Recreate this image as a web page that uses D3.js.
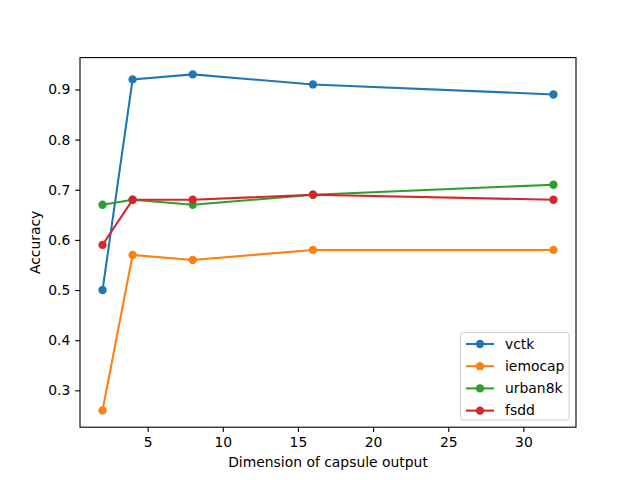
<!DOCTYPE html>
<html>
<head>
<meta charset="utf-8">
<script src="https://cdn.jsdelivr.net/npm/d3@7"></script>
<style>
  body { margin: 0; background: #fff; }
  svg text { font-family: "DejaVu Sans", sans-serif; fill: #000; }
</style>
</head>
<body>
<svg id="chart" width="640" height="480"></svg>
<script>
const dims = [2, 4, 8, 16, 32];
const seriesNames = ["vctk", "iemocap", "urban8k", "fsdd"];
const vctk = [0.50, 0.92, 0.93, 0.91, 0.89];
const iemocap = [0.26, 0.57, 0.56, 0.58, 0.58];
const urban8k = [0.67, 0.68, 0.67, 0.69, 0.71];
const fsdd = [0.59, 0.68, 0.68, 0.69, 0.68];
const colors = ["#1f77b4", "#ff7f0e", "#2ca02c", "#d62728"];
const xTicks = [5, 10, 15, 20, 25, 30];
const yTicks = [0.3, 0.4, 0.5, 0.6, 0.7, 0.8, 0.9];

const svg = d3.select("#chart"),
    margin = { top: 57.6, right: 64, bottom: 52.8, left: 80 },
    width = 640, height = 480,
    fs = 13.9;

const allSeries = [vctk, iemocap, urban8k, fsdd];
const allVals = allSeries.flat();
const xMin = d3.min(dims), xMax = d3.max(dims);
const yMin = d3.min(allVals), yMax = d3.max(allVals);
const xPad = (xMax - xMin) * 0.05, yPad = (yMax - yMin) * 0.05;

const x = d3.scaleLinear()
    .domain([xMin - xPad, xMax + xPad])
    .range([margin.left, width - margin.right]);
const y = d3.scaleLinear()
    .domain([yMin - yPad, yMax + yPad])
    .range([height - margin.bottom, margin.top]);

// axes
const xAxis = svg.append("g")
    .attr("transform", `translate(0,${height - margin.bottom})`)
    .call(d3.axisBottom(x).tickValues(xTicks).tickFormat(d3.format("d")).tickSizeOuter(0).tickSize(4.86).tickPadding(4.86));
const yAxis = svg.append("g")
    .attr("transform", `translate(${margin.left},0)`)
    .call(d3.axisLeft(y).tickValues(yTicks).tickFormat(d3.format(".1f")).tickSizeOuter(0).tickSize(4.86).tickPadding(4.86));
[xAxis, yAxis].forEach(g => {
    g.select(".domain").remove();
    g.selectAll("text").attr("font-size", fs).attr("font-family", "DejaVu Sans");
    g.selectAll("line").attr("stroke", "#000").attr("stroke-width", 1.1);
});

// frame
svg.append("rect")
    .attr("x", margin.left).attr("y", margin.top)
    .attr("width", width - margin.left - margin.right)
    .attr("height", height - margin.top - margin.bottom)
    .attr("fill", "none").attr("stroke", "#000").attr("stroke-width", 1.1);

// labels
svg.append("text")
    .attr("x", (margin.left + width - margin.right) / 2)
    .attr("y", 467)
    .attr("text-anchor", "middle")
    .attr("font-size", fs)
    .text("Dimension of capsule output");
svg.append("text")
    .attr("transform", `translate(40,${(margin.top + height - margin.bottom) / 2}) rotate(-90)`)
    .attr("text-anchor", "middle")
    .attr("font-size", fs)
    .text("Accuracy");

// lines
const line = d3.line().x((d, i) => x(dims[i])).y(d => y(d));
allSeries.forEach((vals, k) => {
    svg.append("path")
        .attr("d", line(vals))
        .attr("fill", "none")
        .attr("stroke", colors[k])
        .attr("stroke-width", 2.08);
    svg.selectAll(null)
        .data(vals)
        .join("circle")
        .attr("cx", (d, i) => x(dims[i]))
        .attr("cy", d => y(d))
        .attr("r", 4.17)
        .attr("fill", colors[k]);
});

// legend
const lg = svg.append("g");
lg.append("rect")
    .attr("x", 460.5).attr("y", 332.5)
    .attr("width", 108.5).attr("height", 87.5)
    .attr("rx", 2.8)
    .attr("fill", "#fff").attr("fill-opacity", 0.8)
    .attr("stroke", "#ccc").attr("stroke-width", 1);
seriesNames.forEach((name, k) => {
    const cy = 344 + k * 22.2;
    lg.append("line")
        .attr("x1", 466).attr("x2", 494)
        .attr("y1", cy).attr("y2", cy)
        .attr("stroke", colors[k]).attr("stroke-width", 2.08);
    lg.append("circle")
        .attr("cx", 480).attr("cy", cy).attr("r", 4.17)
        .attr("fill", colors[k]);
    lg.append("text")
        .attr("x", 505).attr("y", cy)
        .attr("dy", "0.35em")
        .attr("font-size", fs)
        .text(name);
});
</script>
</body>
</html>
